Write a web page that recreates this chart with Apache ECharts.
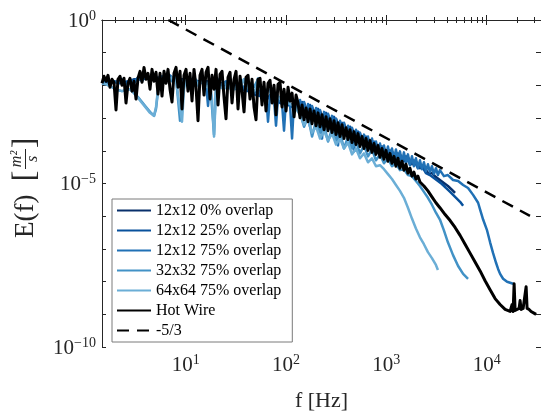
<!DOCTYPE html>
<html>
<head>
<meta charset="utf-8">
<script src="https://cdn.jsdelivr.net/npm/echarts@6/dist/echarts.min.js"></script>
<style>html,body{margin:0;padding:0;background:#fff;}#c{width:541px;height:417px;}</style>
</head>
<body>
<div id="c"></div>
<script>
// ---------- data (frequency in Hz, E in m^2/s) ----------
const seriesNames = ['12x12 0% overlap', '12x12 25% overlap', '12x12 75% overlap', '32x32 75% overlap', '64x64 75% overlap', 'Hot Wire', '-5/3'];
const xLabelDecades = [1, 2, 3, 4];
const yLabelDecades = [0, -5, -10];
const yTickDecades = [0, -1, -2, -3, -4, -5, -6, -7, -8, -9, -10];

const piv12_0 = [[1.464,1.165e-2],[1.759,1.165e-2],[2.113,1.34e-2],[2.540,1.165e-2],[3.052,1.54e-2],[3.667,1.54e-2],[4.407,1.77e-2],[5.295,1.54e-2],[6.363,1.77e-2],[7.646,1.54e-2],[9.186,1.54e-2],[11.04,1.54e-2],[13.26,1.34e-2],[15.94,1.34e-2],[19.15,1.165e-2],[23.01,1.165e-2],[27.65,1.014e-2],[33.22,8.82e-3],[39.91,7.68e-3],[47.96,6.68e-3],[57.62,5.06e-3],[69.23,4.40e-3],[83.18,3.83e-3],[100.0,2.90e-3],[120.2,2.52e-3],[137.9,1.91e-3],[151.2,2.90e-3],[165.7,1.35e-3],[181.6,2.19e-3],[199.1,1.021e-3],[218.2,1.66e-3],[239.2,8.29e-4],[262.1,1.26e-3],[287.3,6.27e-4],[314.9,9.53e-4],[345.2,4.43e-4],[378.3,6.73e-4],[414.7,3.35e-4],[454.5,4.75e-4],[498.2,2.37e-4],[546.0,3.35e-4],[598.5,1.67e-4],[655.9,2.37e-4],[718.9,1.18e-4],[788.0,1.67e-4],[863.7,8.34e-5],[946.6,1.18e-4],[1037,6.77e-5],[1137,9.59e-5],[1246,5.50e-5],[1366,7.78e-5],[1497,4.78e-5],[1641,6.32e-5],[1799,3.88e-5],[1971,4.78e-5],[2161,2.94e-5],[2368,3.38e-5],[2596,2.08e-5],[2845,2.08e-5],[3119,1.57e-5],[3418,1.28e-5],[3746,1.04e-5],[4106,8.40e-6],[4520,6.36e-6],[4840,5.16e-6]];

const piv12_25 = [[1.464,1.165e-2],[1.842,1.34e-2],[2.213,1.165e-2],[2.659,1.34e-2],[3.196,1.54e-2],[3.840,1.77e-2],[4.614,1.54e-2],[5.544,1.77e-2],[6.661,1.54e-2],[8.005,1.77e-2],[9.618,1.34e-2],[11.56,1.54e-2],[13.89,1.165e-2],[16.69,1.34e-2],[20.05,1.014e-2],[24.09,1.014e-2],[28.94,8.82e-3],[34.78,7.68e-3],[41.79,6.68e-3],[50.21,5.06e-3],[60.33,4.40e-3],[72.48,3.83e-3],[87.09,2.90e-3],[104.7,2.52e-3],[125.8,1.91e-3],[144.4,3.11e-3],[158.3,1.26e-3],[173.5,2.52e-3],[190.1,9.53e-4],[208.4,1.91e-3],[228.4,7.21e-4],[250.4,1.445e-3],[274.4,4.75e-4],[300.8,1.094e-3],[329.7,4.13e-4],[361.4,7.21e-4],[396.1,3.13e-4],[434.1,5.46e-4],[475.8,2.37e-4],[521.5,3.86e-4],[571.6,1.56e-4],[626.5,2.72e-4],[686.7,1.18e-4],[752.7,1.92e-4],[825.0,8.95e-5],[904.2,1.36e-4],[991.1,7.26e-5],[1086,1.03e-4],[1190,5.89e-5],[1305,8.34e-5],[1430,4.78e-5],[1567,6.77e-5],[1718,3.88e-5],[1883,5.13e-5],[2064,2.94e-5],[2262,3.38e-5],[2480,2.08e-5],[2718,1.81e-5],[2979,1.47e-5],[3265,1.19e-5],[3578,9.66e-6],[3922,7.31e-6],[4320,5.53e-6],[4840,3.91e-6],[5430,2.76e-6],[5820,2.09e-6]];

const piv12_75 = [[1.464,1.165e-2],[1.605,1.54e-2],[1.759,1.087e-2],[1.928,1.34e-2],[2.113,1.165e-2],[2.317,1.54e-2],[2.540,1.014e-2],[2.784,1.54e-2],[3.052,1.165e-2],[3.346,1.77e-2],[3.667,1.34e-2],[4.020,2.03e-2],[4.407,1.34e-2],[4.831,2.03e-2],[5.295,1.54e-2],[5.804,1.90e-2],[6.363,1.54e-2],[6.975,2.03e-2],[7.646,1.54e-2],[8.381,1.90e-2],[9.186,1.165e-2],[10.07,2.03e-2],[11.04,1.34e-2],[12.10,1.77e-2],[13.26,1.014e-2],[14.54,1.77e-2],[15.94,1.165e-2],[16.69,2.35e-3],[17.47,1.34e-2],[19.15,1.165e-2],[20.99,1.54e-2],[23.01,1.014e-2],[25.22,1.34e-2],[27.65,8.82e-3],[30.31,1.165e-2],[33.22,7.68e-3],[36.41,1.014e-2],[39.91,6.68e-3],[43.75,8.82e-3],[47.96,5.81e-3],[52.56,7.68e-3],[57.62,4.40e-3],[63.16,5.81e-3],[66.12,7.73e-4],[69.23,5.06e-3],[75.89,3.83e-3],[79.45,5.85e-4],[83.18,4.40e-3],[91.18,2.90e-3],[95.47,4.13e-4],[100.0,3.83e-3],[109.6,2.52e-3],[114.8,2.37e-4],[120.2,3.33e-3],[131.7,1.91e-3],
[137.9,3.57e-3],[144.4,1.66e-3],[151.2,3.11e-3],[158.3,1.445e-3],[165.7,2.70e-3],[173.5,5.46e-4],[181.6,2.35e-3],[190.1,1.094e-3],[199.1,2.05e-3],[208.4,9.53e-4],[218.2,1.78e-3],[228.4,2.37e-4],[239.2,1.55e-3],[250.4,7.21e-4],[262.1,1.35e-3],[274.4,6.27e-4],[287.3,1.17e-3],[300.8,5.09e-4],[314.9,9.53e-4],[329.7,1.46e-4],[345.2,8.29e-4],[361.4,3.86e-4],[378.3,7.21e-4],[396.1,3.13e-4],[414.7,5.85e-4],[434.1,2.72e-4],[454.5,5.09e-4],[475.8,9.59e-5],[498.2,4.43e-4],[521.5,1.92e-4],[546.0,3.60e-4],[571.6,1.67e-4],[598.5,3.13e-4],[626.5,1.46e-4],[655.9,2.72e-4],[686.7,1.18e-4],[718.9,2.37e-4],[752.7,1.03e-4],[788.0,1.92e-4],[825.0,8.95e-5],[863.7,1.67e-4],[904.2,7.78e-5],[946.6,1.46e-4],[991.1,6.77e-5],[1037,1.36e-4],[1086,6.32e-5],[1137,1.18e-4],[1190,5.50e-5],[1246,1.10e-4],[1305,5.13e-5],[1366,9.59e-5],[1430,4.46e-5],[1497,8.95e-5],[1567,4.16e-5],[1641,7.78e-5],[1718,3.62e-5],[1799,6.77e-5],[1883,3.38e-5],[1971,5.89e-5],[2064,2.94e-5],[2161,5.13e-5],[2262,2.74e-5],[2368,4.46e-5],[2480,2.39e-5],[2596,3.88e-5],[2718,2.23e-5],[2845,3.38e-5],[2979,1.94e-5],[3119,2.94e-5],[3265,1.81e-5],[3418,2.56e-5],[3746,1.68e-5],[4106,1.81e-5],[4620,1.28e-5],[5190,1.19e-5],[5820,9.01e-6],[6520,7.31e-6],[7320,4.49e-6],[8210,2.58e-6],[8600,1.58e-6],[9210,7.90e-7],[10090,3.67e-7],[10810,1.59e-7],[11580,7.42e-8],[12410,3.70e-8],[12990,2.44e-8],[13600,1.72e-8],[14570,1.22e-8],[15970,9.86e-9],[17120,9.20e-9],[18340,8.58e-9]];

const piv32_75 = [[1.464,1.165e-2],[1.605,1.087e-2],[1.759,9.46e-3],[1.928,8.23e-3],[2.113,7.16e-3],[2.317,6.68e-3],[2.540,7.16e-3],[2.784,7.68e-3],[3.052,5.81e-3],[3.346,4.40e-3],[3.667,3.11e-3],[4.020,2.19e-3],[4.407,1.55e-3],[4.614,1.35e-3],[4.831,1.17e-3],[5.058,1.91e-3],[5.295,6.68e-3],[5.544,1.165e-2],[6.077,1.54e-2],[6.661,1.77e-2],[7.302,1.34e-2],[8.005,1.77e-2],[8.774,8.29e-4],[9.186,1.165e-2],[10.07,1.77e-2],[11.04,1.34e-2],[12.10,1.77e-2],[13.26,1.165e-2],[14.54,1.54e-2],[15.94,1.014e-2],[17.47,1.34e-2],[19.15,3.13e-4],[20.05,1.165e-2],[21.98,1.014e-2],[24.09,1.165e-2],[26.41,8.82e-3],[28.94,1.014e-2],[31.73,7.68e-3],[34.78,1.014e-2],[38.12,1.54e-2],[39.91,1.014e-2],[43.75,6.68e-3],[47.96,8.82e-3],[52.56,1.54e-2],[55.04,1.014e-2],[60.33,6.68e-3],[66.12,7.68e-3],[72.48,5.06e-3],[79.45,5.81e-3],[87.09,3.83e-3],[95.47,3.83e-3],[104.7,2.90e-3],[114.8,2.52e-3],[125.8,2.19e-3],
[137.9,1.445e-3],[151.2,5.46e-4],[165.7,1.094e-3],[181.6,2.72e-4],[199.1,8.29e-4],[218.2,3.60e-4],[239.2,6.27e-4],[262.1,1.92e-4],[287.3,4.75e-4],[314.9,2.06e-4],[345.2,3.60e-4],[378.3,1.18e-4],[414.7,2.72e-4],[454.5,1.18e-4],[498.2,1.92e-4],[546.0,8.34e-5],[598.5,1.46e-4],[655.9,6.77e-5],[718.9,1.10e-4],[788.0,5.13e-5],[863.7,7.78e-5],[946.6,4.16e-5],[1037,5.89e-5],[1137,3.38e-5],[1246,4.16e-5],[1366,2.56e-5],[1497,2.74e-5],[1641,1.81e-5],[1799,1.68e-5],[1971,1.19e-5],[2161,8.40e-6],[2368,5.53e-6],[2596,3.65e-6],[2845,2.24e-6],[3119,1.28e-6],[3418,7.90e-7],[3746,3.67e-7],[4106,1.59e-7],[4620,6.45e-8],[5190,3.00e-8],[5820,1.72e-8],[6520,1.22e-8]];

const piv64_75 = [[1.464,1.165e-2],[1.605,1.087e-2],[1.759,9.46e-3],[1.928,8.23e-3],[2.113,7.16e-3],[2.317,6.68e-3],[2.540,7.16e-3],[2.784,7.68e-3],[3.052,5.81e-3],[3.346,4.10e-3],[3.667,2.90e-3],[4.020,2.05e-3],[4.407,1.445e-3],[4.614,1.26e-3],[4.831,1.17e-3],[5.058,2.19e-3],[5.295,7.68e-3],[5.544,1.165e-2],[6.077,1.54e-2],[6.661,1.34e-2],[7.302,1.77e-2],[8.005,1.34e-2],[8.774,1.91e-3],[9.186,7.73e-4],[9.618,7.68e-3],[10.07,1.54e-2],[11.04,1.165e-2],[12.10,1.54e-2],[13.26,1.014e-2],[14.54,1.34e-2],[15.94,8.82e-3],[17.47,1.014e-2],[18.29,3.83e-3],[19.15,2.72e-4],[20.05,6.68e-3],[21.98,8.82e-3],[24.09,7.68e-3],[26.41,1.014e-2],[28.94,6.68e-3],[31.73,8.82e-3],[34.78,7.68e-3],[38.12,1.54e-2],[39.91,1.77e-2],[41.79,8.82e-3],[45.81,5.81e-3],[50.21,7.68e-3],[52.56,1.65e-2],[55.04,8.82e-3],[60.33,6.68e-3],[66.12,7.68e-3],[72.48,5.06e-3],[79.45,5.81e-3],[87.09,3.83e-3],[95.47,4.40e-3],[104.7,2.90e-3],[114.8,2.52e-3],[125.8,1.91e-3],
[137.9,1.26e-3],[151.2,6.27e-4],[165.7,9.53e-4],[181.6,3.60e-4],[199.1,5.46e-4],[218.2,2.37e-4],[239.2,4.13e-4],[262.1,2.06e-4],[287.3,3.35e-4],[314.9,1.56e-4],[345.2,2.37e-4],[378.3,1.18e-4],[414.7,1.79e-4],[454.5,7.78e-5],[498.2,1.18e-4],[546.0,5.89e-5],[598.5,8.34e-5],[655.9,4.46e-5],[718.9,5.89e-5],[788.0,3.38e-5],[863.7,3.62e-5],[946.6,2.74e-5],[1037,1.94e-5],[1137,1.37e-5],[1246,9.01e-6],[1366,5.93e-6],[1497,3.65e-6],[1641,1.82e-6],[1799,8.47e-7],[1971,4.22e-7],[2161,2.26e-7],[2368,1.39e-7],[2596,7.95e-8],[2845,5.24e-8],[3119,3.22e-8],[3265,2.27e-8]];

const hotWire = [[1.464,1.165e-2],[1.532,1.90e-2],[1.605,1.34e-2],[1.680,2.03e-2],[1.759,8.82e-3],[1.842,1.54e-2],[1.928,1.25e-2],[2.019,1.78e-3],[2.113,1.54e-2],[2.213,1.90e-2],[2.317,1.014e-2],[2.426,1.65e-2],[2.540,2.90e-3],[2.659,1.165e-2],[2.784,1.65e-2],[2.915,6.68e-3],[3.052,1.34e-2],[3.196,3.83e-3],[3.346,1.65e-2],[3.503,2.69e-2],[3.667,1.25e-2],[3.840,3.55e-2],[4.020,1.54e-2],[4.209,2.34e-2],[4.407,7.68e-3],[4.614,3.09e-2],[4.831,1.34e-2],[5.058,2.51e-2],[5.295,5.42e-3],[5.544,2.34e-2],[5.804,4.72e-3],[6.077,2.69e-2],[6.363,1.165e-2],[6.661,3.09e-2],[6.975,7.68e-3],[7.302,3.11e-3],[7.646,2.34e-2],[8.005,3.55e-2],[8.381,8.82e-3],[8.774,2.69e-2],[9.186,1.91e-3],[9.618,2.03e-2],[10.07,3.09e-2],[10.54,6.68e-3],[11.04,2.34e-2],[11.56,3.33e-3],[12.10,3.09e-2],[12.67,8.82e-3],[13.26,8.29e-4],[13.89,2.03e-2],[14.54,3.09e-2],[15.22,5.06e-3],[15.94,2.51e-2],[16.69,3.55e-2],[17.47,3.83e-3],[18.29,2.03e-2],[19.15,7.68e-3],[20.05,3.09e-2],[20.99,2.52e-3],[21.98,2.18e-2],[23.01,2.69e-2],[24.09,4.40e-3],[25.22,9.53e-4],[26.41,1.77e-2],[27.65,2.51e-2],[28.94,2.90e-3],[30.31,1.54e-2],[31.73,2.69e-2],[33.22,1.91e-3],[34.78,1.90e-2],[36.41,6.68e-3],[38.12,1.55e-3],[39.91,1.77e-2],[41.79,2.03e-2],[43.75,3.83e-3],[45.81,1.54e-2],[47.96,2.19e-3],[50.21,8.89e-4],[52.56,1.54e-2],[55.04,1.65e-2],[57.62,2.52e-3],[60.33,1.25e-2],[63.16,1.66e-3],[66.12,1.165e-2],[69.23,1.44e-2],[72.48,2.90e-3],[75.89,1.014e-2],[79.45,1.26e-3],[83.18,1.087e-2],[87.09,1.25e-2],[91.18,2.19e-3],[95.47,7.68e-3],[100.0,1.66e-3],[104.7,8.82e-3],[109.6,3.33e-3],[114.8,5.81e-3],[120.2,1.094e-3],[125.8,5.06e-3],[131.7,2.90e-3],
[137.9,1.021e-3],[144.4,2.52e-3],[151.2,8.89e-4],[158.3,2.05e-3],[165.7,7.73e-4],[173.5,1.91e-3],[181.6,6.73e-4],[190.1,1.66e-3],[199.1,5.85e-4],[208.4,1.445e-3],[218.2,5.46e-4],[228.4,1.26e-3],[239.2,4.43e-4],[250.4,1.094e-3],[262.1,4.13e-4],[274.4,9.53e-4],[287.3,3.60e-4],[300.8,8.29e-4],[314.9,3.13e-4],[329.7,7.21e-4],[345.2,2.72e-4],[361.4,6.27e-4],[378.3,2.37e-4],[396.1,5.09e-4],[414.7,2.21e-4],[434.1,4.43e-4],[454.5,1.79e-4],[475.8,3.86e-4],[498.2,1.56e-4],[521.5,3.35e-4],[546.0,1.36e-4],[571.6,2.72e-4],[598.5,1.18e-4],[626.5,2.37e-4],[655.9,1.03e-4],[686.7,2.06e-4],[718.9,8.95e-5],[752.7,1.67e-4],[788.0,7.78e-5],[825.0,1.46e-4],[863.7,6.32e-5],[904.2,1.18e-4],[946.6,5.50e-5],[991.1,1.03e-4],[1037,4.78e-5],[1086,8.34e-5],[1137,4.16e-5],[1190,6.77e-5],[1246,3.38e-5],[1305,5.89e-5],[1366,2.94e-5],[1430,4.78e-5],[1497,2.56e-5],[1567,3.88e-5],[1641,2.08e-5],[1718,2.94e-5],[1799,1.68e-5],[1883,2.23e-5],[1971,1.37e-5],[2064,1.68e-5],[2161,1.11e-5],
[2368,8.40e-6],[2596,5.93e-6],[2845,3.91e-6],[3119,2.58e-6],[3418,1.82e-6],[3850,1.12e-6],[4320,7.37e-7],[4840,4.52e-7],[5430,2.59e-7],[6090,1.39e-7],[6830,7.42e-8],[7660,3.97e-8],[8600,2.12e-8],[9640,1.06e-8],[10810,5.65e-9],[12130,3.02e-9],[13600,1.99e-9],[15260,1.41e-9],[17120,1.22e-9],[17510,1.31e-9],[17920,1.99e-9],[18340,1.22e-9],[18770,8.58e-9],[19200,1.31e-9],[20100,1.41e-9],[21040,1.51e-9],[21530,2.63e-9],[22030,1.41e-9],[23070,1.51e-9],[24150,1.73e-9],[24720,6.97e-9],[25280,1.51e-9],[26470,1.41e-9],[27710,1.22e-9],[29010,1.14e-9],[31080,9.93e-10]];

const slopeLine = [[6.7, 1.0], [27000, 1.02e-6]];

const colors = ['#08306b', '#08519c', '#2171b5', '#4292c6', '#6baed6', '#000000', '#000000'];
const lineWidths = [2.5, 2.5, 2.5, 2.5, 2.5, 3, 2.5];
const xMin = 1.464, xMax = 34780;

// ---------- build ----------
const FONT = 'Liberation Serif';
const AX = '#262626';
const lg = d => d.map(p => [Math.log10(p[0]), Math.log10(p[1])]);
const allData = [piv12_0, piv12_25, piv12_75, piv32_75, piv64_75, hotWire, slopeLine];

const minorX = [];
for (let n = 0; n <= 4; n++) for (let k = 2; k <= 9; k++) {
  const v = Math.log10(k * Math.pow(10, n));
  if (v > Math.log10(xMin) && v < Math.log10(xMax)) minorX.push(v);
}
const sup = v => '{b|10}{s|' + (v < 0 ? '\u2212' + Math.abs(v) : v) + '}';
const rich = {
  b: { fontFamily: FONT, fontSize: 21, lineHeight: 22, padding: [2, 0, 0, 0], color: AX },
  s: { fontFamily: FONT, fontSize: 14, lineHeight: 14, verticalAlign: 'top', color: AX }
};
const lx = [Math.log10(xMin), Math.log10(xMax)];
const baseX = (extra) => Object.assign({
  type: 'value', min: lx[0], max: lx[1], splitLine: { show: false },
  axisLine: { show: true, lineStyle: { color: AX, width: 1 } },
  axisLabel: { show: false }
}, extra);

const option = {
  backgroundColor: '#fff',
  animation: false,
  grid: [
    { left: 102, right: 0, top: 20, bottom: 66 },
    { left: 102, right: 0, top: 20, bottom: 66 }
  ],
  xAxis: [
    baseX({ gridIndex: 0, position: 'bottom',
      axisTick: { show: true, inside: true, length: 5, customValues: xLabelDecades, lineStyle: { color: AX } },
      axisLabel: { show: true, customValues: xLabelDecades, margin: 6, formatter: v => sup(Math.round(v)), rich: rich },
      name: 'f [Hz]', nameLocation: 'middle', nameGap: 43,
      nameTextStyle: { fontFamily: FONT, fontSize: 22, color: AX } }),
    baseX({ gridIndex: 0, position: 'top',
      axisTick: { show: true, inside: true, length: 5, customValues: xLabelDecades, lineStyle: { color: AX } } }),
    baseX({ gridIndex: 1, position: 'bottom', axisLine: { show: false },
      axisTick: { show: true, inside: true, length: 3, customValues: minorX, lineStyle: { color: AX } } }),
    baseX({ gridIndex: 1, position: 'top', axisLine: { show: false },
      axisTick: { show: true, inside: true, length: 3, customValues: minorX, lineStyle: { color: AX } } })
  ],
  yAxis: [
    { type: 'value', gridIndex: 0, position: 'left', min: -10, max: 0, splitLine: { show: false },
      axisLine: { show: true, lineStyle: { color: AX, width: 1 } },
      axisTick: { show: true, inside: true, length: 4, customValues: yTickDecades, lineStyle: { color: AX } },
      axisLabel: { show: true, customValues: yLabelDecades, margin: 6, formatter: v => sup(Math.round(v)), rich: rich } },
    { type: 'value', gridIndex: 0, position: 'right', min: -10, max: 0, splitLine: { show: false },
      axisLine: { show: false },
      axisTick: { show: true, inside: true, length: 5, customValues: yTickDecades, lineStyle: { color: AX } },
      axisLabel: { show: false } },
    { type: 'value', gridIndex: 1, min: -10, max: 0, show: false }
  ],
  legend: {
    orient: 'vertical', left: 112, top: 199,
    itemWidth: 34, itemHeight: 14, itemGap: 3,
    padding: [3, 11, 3, 4],
    borderColor: '#7a7a7a', borderWidth: 1, backgroundColor: '#fff',
    itemStyle: { opacity: 0 },
    textStyle: { fontFamily: FONT, fontSize: 16, color: '#000', lineHeight: 17 },
    data: seriesNames
  },
  graphic: [{
    type: 'group', x: 0, y: 0, rotation: Math.PI / 2, silent: true,
    children: [
      { type: 'text', x: -238, y: 26, style: { text: 'E(f)', font: '27px "Liberation Serif"', fill: AX, textAlign: 'left', textVerticalAlign: 'middle' } },
      { type: 'text', x: -176, y: 26, style: { text: '[', font: '32px "Liberation Serif"', fill: AX, textAlign: 'center', textVerticalAlign: 'middle' } },
      { type: 'text', x: -159, y: 17, style: { text: 'm\u00b2', font: 'italic 16px "Liberation Serif"', fill: AX, textAlign: 'center', textVerticalAlign: 'middle' } },
      { type: 'line', shape: { x1: -169, y1: 25.5, x2: -149, y2: 25.5 }, style: { stroke: AX, lineWidth: 1 } },
      { type: 'text', x: -159, y: 33, style: { text: 's', font: 'italic 16px "Liberation Serif"', fill: AX, textAlign: 'center', textVerticalAlign: 'middle' } },
      { type: 'text', x: -143, y: 26, style: { text: ']', font: '32px "Liberation Serif"', fill: AX, textAlign: 'center', textVerticalAlign: 'middle' } }
    ]
  }],
  series: allData.map((d, i) => ({
    name: seriesNames[i], type: 'line', xAxisIndex: 0, yAxisIndex: 0,
    data: lg(d), symbol: 'none', showSymbol: false, clip: true,
    lineStyle: { color: colors[i], width: lineWidths[i], type: i === 6 ? [12, 8] : 'solid', cap: 'butt', join: 'round' },
    itemStyle: { color: colors[i] },
    z: 2 + i
  }))
};

const chart = echarts.init(document.getElementById('c'), null, { renderer: 'canvas' });
chart.setOption(option);
</script>
</body>
</html>
